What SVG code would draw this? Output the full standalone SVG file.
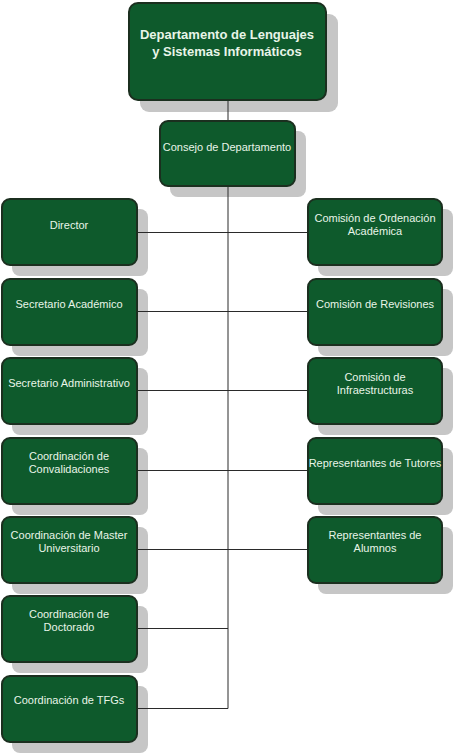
<svg xmlns="http://www.w3.org/2000/svg" width="455" height="754" viewBox="0 0 455 754">
<style>
.sh{fill:#c6c6c6}
.bx{fill:#0e5a2c;stroke:#1b2f1f;stroke-width:2}
.t{font-family:"Liberation Sans",Arial,sans-serif;font-size:11px;fill:#e8f5e8;text-anchor:middle}
.tb{font-family:"Liberation Sans",Arial,sans-serif;font-size:13px;font-weight:bold;fill:#e8f5e8;text-anchor:middle}
.ln{stroke:#2a2a2a;stroke-width:1;fill:none}
</style>
<rect width="455" height="754" fill="#ffffff"/>
<g id="shadows">
<rect class="sh" x="140" y="14" width="198" height="98" rx="9"/>
<rect class="sh" x="170" y="131" width="136" height="66" rx="8"/>
<rect class="sh" x="12" y="209" width="136" height="67" rx="8"/>
<rect class="sh" x="12" y="289" width="136" height="67" rx="8"/>
<rect class="sh" x="12" y="368" width="136" height="67" rx="8"/>
<rect class="sh" x="12" y="448" width="136" height="67" rx="8"/>
<rect class="sh" x="12" y="527" width="136" height="67" rx="8"/>
<rect class="sh" x="12" y="606" width="136" height="67" rx="8"/>
<rect class="sh" x="12" y="686" width="136" height="67" rx="8"/>
<rect class="sh" x="318" y="209" width="135" height="67" rx="8"/>
<rect class="sh" x="318" y="289" width="135" height="67" rx="8"/>
<rect class="sh" x="318" y="368" width="135" height="67" rx="8"/>
<rect class="sh" x="318" y="448" width="135" height="67" rx="8"/>
<rect class="sh" x="318" y="527" width="135" height="67" rx="8"/>
</g>
<g id="connectors">
<line class="ln" x1="228" y1="100" x2="228" y2="708.5"/>
<line class="ln" x1="137" y1="232.5" x2="307" y2="232.5"/>
<line class="ln" x1="137" y1="311.5" x2="307" y2="311.5"/>
<line class="ln" x1="137" y1="390.5" x2="307" y2="390.5"/>
<line class="ln" x1="137" y1="470.5" x2="307" y2="470.5"/>
<line class="ln" x1="137" y1="549.5" x2="307" y2="549.5"/>
<line class="ln" x1="137" y1="628.5" x2="228" y2="628.5"/>
<line class="ln" x1="137" y1="708.5" x2="228" y2="708.5"/>
</g>
<g id="n-departamento">
<rect class="bx" x="129" y="3" width="197" height="97" rx="9"/>
<text class="tb" x="227" y="39">Departamento de Lenguajes</text>
<text class="tb" x="227" y="56">y Sistemas Informáticos</text>
</g>
<g id="n-consejo">
<rect class="bx" x="160" y="121" width="135" height="65" rx="8"/>
<text class="t" x="227" y="151">Consejo de Departamento</text>
</g>
<g id="n-director">
<rect class="bx" x="2" y="199" width="135" height="66" rx="8"/>
<text class="t" x="69" y="229">Director</text>
</g>
<g id="n-secretario-academico">
<rect class="bx" x="2" y="279" width="135" height="66" rx="8"/>
<text class="t" x="69" y="308">Secretario Académico</text>
</g>
<g id="n-secretario-administrativo">
<rect class="bx" x="2" y="358" width="135" height="66" rx="8"/>
<text class="t" x="69" y="387">Secretario Administrativo</text>
</g>
<g id="n-convalidaciones">
<rect class="bx" x="2" y="438" width="135" height="66" rx="8"/>
<text class="t" x="69" y="460">Coordinación de</text>
<text class="t" x="69" y="473">Convalidaciones</text>
</g>
<g id="n-master">
<rect class="bx" x="2" y="517" width="135" height="66" rx="8"/>
<text class="t" x="69" y="539">Coordinación de  Master</text>
<text class="t" x="69" y="552">Universitario</text>
</g>
<g id="n-doctorado">
<rect class="bx" x="2" y="596" width="135" height="66" rx="8"/>
<text class="t" x="69" y="618">Coordinación de</text>
<text class="t" x="69" y="631">Doctorado</text>
</g>
<g id="n-tfgs">
<rect class="bx" x="2" y="676" width="135" height="66" rx="8"/>
<text class="t" x="69" y="704">Coordinación de TFGs</text>
</g>
<g id="n-ordenacion">
<rect class="bx" x="308" y="199" width="134" height="66" rx="8"/>
<text class="t" x="375" y="222">Comisión de Ordenación</text>
<text class="t" x="375" y="235">Académica</text>
</g>
<g id="n-revisiones">
<rect class="bx" x="308" y="279" width="134" height="66" rx="8"/>
<text class="t" x="375" y="308">Comisión de Revisiones</text>
</g>
<g id="n-infraestructuras">
<rect class="bx" x="308" y="358" width="134" height="66" rx="8"/>
<text class="t" x="375" y="381">Comisión de</text>
<text class="t" x="375" y="394">Infraestructuras</text>
</g>
<g id="n-tutores">
<rect class="bx" x="308" y="438" width="134" height="66" rx="8"/>
<text class="t" x="375" y="467">Representantes de Tutores</text>
</g>
<g id="n-alumnos">
<rect class="bx" x="308" y="517" width="134" height="66" rx="8"/>
<text class="t" x="375" y="539">Representantes de</text>
<text class="t" x="375" y="552">Alumnos</text>
</g>
</svg>
